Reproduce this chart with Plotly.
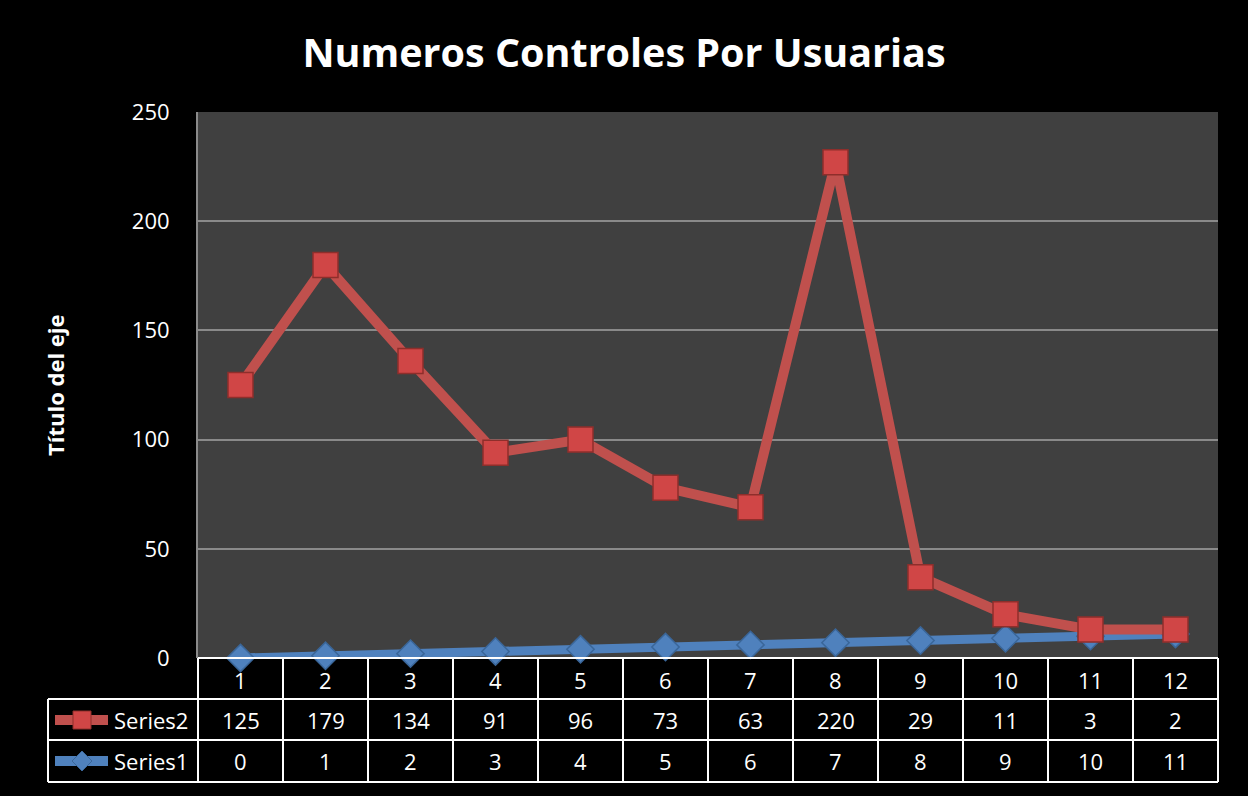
import plotly.graph_objects as go

categories = [1, 2, 3, 4, 5, 6, 7, 8, 9, 10, 11, 12]
series1 = [0, 1, 2, 3, 4, 5, 6, 7, 8, 9, 10, 11]
series2 = [125, 179, 134, 91, 96, 73, 63, 220, 29, 11, 3, 2]
title_text = "Numeros Controles Por Usuarias"
ytitle = "Título del eje"

# stacked line chart: Series2 is drawn on top of Series1
series2_stacked = [a + b for a, b in zip(series1, series2)]

W, H = 1248, 796
L, R, T, B = 198, 30, 112, 138
PW = W - L - R
PH = H - T - B

RED = "#C0504D"
BLUE = "#4F81BD"
FONT = "Open Sans"


def px_x(p):
    return (p - L) / PW


def px_y(p):
    return (H - B - p) / PH


fig = go.Figure()
fig.add_trace(go.Scatter(
    x=categories, y=series1, name="Series1", mode="lines+markers",
    line=dict(color=BLUE, width=9),
    marker=dict(symbol="diamond", size=21, color=BLUE,
                line=dict(color="#3A6699", width=1.5)),
    cliponaxis=False,
))
fig.add_trace(go.Scatter(
    x=categories, y=series2_stacked, name="Series2", mode="lines+markers",
    line=dict(color=RED, width=10),
    marker=dict(symbol="square", size=25, color="#D04646",
                line=dict(color="#8E2E2B", width=1.5)),
    cliponaxis=False,
))

shapes = []
annotations = []
WHITE = "#FFFFFF"
n = len(categories)
row_tops = [658, 699, 740, 782]
shapes.append(dict(type="line", xref="paper", yref="paper", x0=0, x1=1,
                   y0=px_y(658), y1=px_y(658), line=dict(color=WHITE, width=2)))
for yp in row_tops[1:]:
    shapes.append(dict(type="line", xref="paper", yref="paper", x0=px_x(48), x1=1,
                       y0=px_y(yp), y1=px_y(yp), line=dict(color=WHITE, width=2)))
for i in range(n + 1):
    xp = i / n
    shapes.append(dict(type="line", xref="paper", yref="paper", x0=xp, x1=xp,
                       y0=px_y(658), y1=px_y(782), line=dict(color=WHITE, width=2)))
shapes.append(dict(type="line", xref="paper", yref="paper", x0=px_x(48), x1=px_x(48),
                   y0=px_y(699), y1=px_y(782), line=dict(color=WHITE, width=2)))

row_centers = [680, 720, 761]
for c, s2, s1 in zip(categories, series2, series1):
    for val, yc in zip([c, s2, s1], row_centers):
        annotations.append(dict(x=c, xref="x", y=px_y(yc), yref="paper",
                                text=str(val), showarrow=False,
                                font=dict(family=FONT, size=22, color=WHITE),
                                xanchor="center", yanchor="middle"))

for name, color, yc, marker in [("Series2", RED, 720, "square"), ("Series1", BLUE, 761, "diamond")]:
    shapes.append(dict(type="line", xref="paper", yref="paper",
                       x0=px_x(55), x1=px_x(108), y0=px_y(yc), y1=px_y(yc),
                       line=dict(color=color, width=10)))
    cx, cy = 82, yc
    if marker == "square":
        hs = 9
        path = "M {} {} L {} {} L {} {} L {} {} Z".format(
            px_x(cx - hs), px_y(cy - hs), px_x(cx + hs), px_y(cy - hs),
            px_x(cx + hs), px_y(cy + hs), px_x(cx - hs), px_y(cy + hs))
        shapes.append(dict(type="path", xref="paper", yref="paper", path=path,
                           fillcolor="#D04646", line=dict(color="#8E2E2B", width=1)))
    else:
        hs = 10
        path = "M {} {} L {} {} L {} {} L {} {} Z".format(
            px_x(cx), px_y(cy - hs), px_x(cx + hs), px_y(cy),
            px_x(cx), px_y(cy + hs), px_x(cx - hs), px_y(cy))
        shapes.append(dict(type="path", xref="paper", yref="paper", path=path,
                           fillcolor=BLUE, line=dict(color="#3A6699", width=1)))
    annotations.append(dict(x=px_x(112), xref="paper", y=px_y(yc), yref="paper",
                            text=name, showarrow=False,
                            font=dict(family=FONT, size=22, color=WHITE),
                            xanchor="left", yanchor="middle"))

annotations.append(dict(x=px_x(55), xref="paper", y=0.5, yref="paper",
                        text="<b>" + ytitle + "</b>", showarrow=False, textangle=-90,
                        font=dict(family=FONT, size=22, color=WHITE),
                        xanchor="center", yanchor="middle"))

fig.update_layout(
    width=W, height=H,
    margin=dict(l=L, r=R, t=T, b=B, autoexpand=False),
    paper_bgcolor="#000000",
    plot_bgcolor="#404040",
    showlegend=False,
    title=dict(text="<b>" + title_text + "</b>", x=0.5, xanchor="center",
               y=1 - 53 / H, yanchor="middle", yref="container",
               font=dict(family=FONT, size=39.5, color=WHITE)),
    xaxis=dict(range=[0.5, 12.5], showgrid=False, zeroline=False,
               showticklabels=False, showline=False, fixedrange=True),
    yaxis=dict(range=[0, 250], dtick=50, showgrid=True, gridcolor="#8A8A8A",
               gridwidth=2, zeroline=False, showline=True, linecolor="#8A8A8A",
               linewidth=2, tickfont=dict(family=FONT, size=22, color=WHITE),
               ticks="", ticklabelstandoff=22, fixedrange=True),
    shapes=shapes,
    annotations=annotations,
)

fig.write_html("out.html", config={"displayModeBar": False},
               post_script="document.body.style.margin='0';document.body.style.overflow='hidden';")
